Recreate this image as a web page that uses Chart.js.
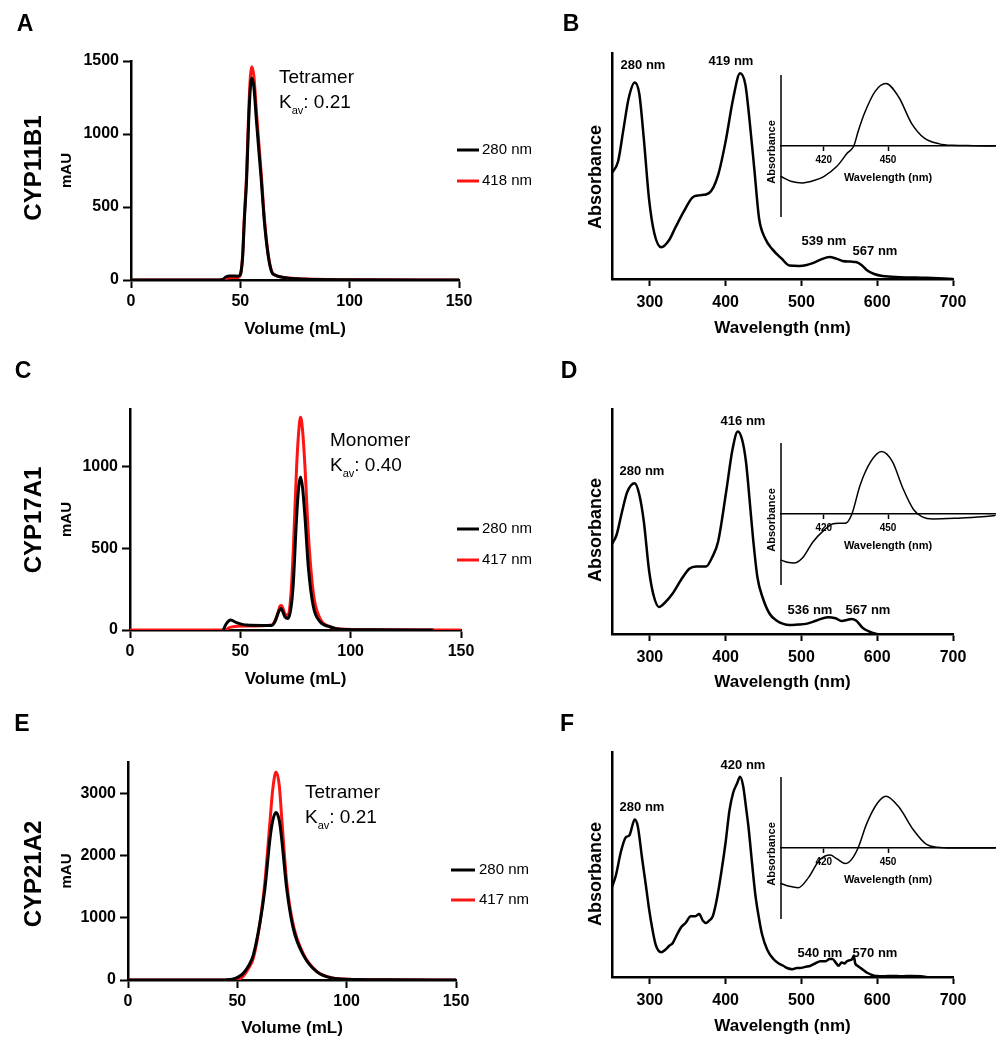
<!DOCTYPE html>
<html>
<head>
<meta charset="utf-8">
<script src="https://cdn.jsdelivr.net/npm/chart.js@4.4.1/dist/chart.umd.min.js"></script>
<style>
  body { margin: 0; background: #fff; }
  #fig { position: relative; width: 1004px; height: 1050px; overflow: hidden; }
  #fig div { position: absolute; }
</style>
</head>
<body>
<div id="fig"></div>
<script>
const FONT = '"Liberation Sans", Arial, Helvetica, sans-serif';
Chart.defaults.font.family = FONT;
Chart.defaults.color = '#000';
Chart.defaults.animation = false;

// tick labels
const volTicks = [0, 50, 100, 150];
const nmTicks = [300, 400, 500, 600, 700];
const insetTicks = [420, 450];

// SEC, CYP11B1
const volA = [0, 40, 42, 43.5, 45, 47, 48.5, 49.5, 50.2, 51.1, 51.8, 52.9, 53.8, 54.6, 55.2, 56.2, 57.4, 58.5, 59.5, 61, 62.7, 64.3, 66, 68, 72, 80, 100, 150];
const a280 = [0, 0, 5, 22, 28, 28, 26, 30, 47, 171, 400, 700, 1085, 1320, 1383, 1320, 1085, 880, 700, 400, 171, 57, 32, 22, 12, 5, 2, 0];
const a418 = [0, 0, 3, 12, 16, 17, 16, 22, 45, 180, 420, 740, 1145, 1395, 1461, 1395, 1145, 930, 740, 420, 180, 60, 34, 23, 13, 6, 2, 0];

// SEC, CYP17A1
const volC280 = [42.3, 43.5, 45.6, 48.3, 52.8, 60, 64.2, 65.7, 67, 68.4, 70.2, 71.7, 73, 74, 75.5, 76.5, 77.3, 78.2, 79.3, 80.8, 83.1, 86.1, 90.6, 95, 110, 137];
const c280 = [0, 35, 61, 45, 30, 28, 28, 51, 100, 132, 81, 71, 140, 285, 690, 880, 935, 870, 690, 386, 142, 51, 20, 5, 1, 0];
const volC417 = [0, 43, 45.3, 52.8, 64.2, 66.5, 68, 68.6, 70.2, 71.6, 73, 74, 75.5, 76.5, 77.3, 78.2, 79.3, 80.8, 83.1, 86.1, 90.6, 95, 110, 150];
const c417 = [0, 0, 16, 24, 30, 80, 146, 150, 100, 88, 230, 488, 995, 1220, 1300, 1220, 995, 590, 224, 71, 20, 6, 1, 0];

// SEC, CYP21A2
const volE = [0, 40, 44.5, 48.2, 50.5, 52.7, 55, 57.3, 60.4, 62.6, 64.9, 66.2, 67.7, 69.2, 70.3, 72.6, 75.6, 80.2, 86.3, 93.9, 100, 120, 150];
const e280 = [0, 0, 2, 15, 50, 106, 220, 400, 930, 1460, 2260, 2560, 2690, 2560, 2260, 1460, 825, 400, 133, 27, 12, 3, 0];
const e417 = [0, 0, 0, 3, 10, 60, 180, 346, 930, 1570, 2530, 3060, 3340, 3120, 2600, 1560, 880, 420, 140, 30, 14, 4, 0];

// UV-vis spectra
const wlB = [250, 258, 265, 272, 280, 286, 292, 299, 306, 315, 325, 334, 345, 356, 365, 378, 390, 400, 410, 419, 426, 431, 438, 444, 452, 462, 474, 484, 497, 507, 515, 527, 537, 546, 554, 565, 572, 580, 586, 596, 607, 630, 665, 700];
const absB = [0.47, 0.52, 0.66, 0.80, 0.87, 0.82, 0.62, 0.35, 0.20, 0.14, 0.17, 0.23, 0.30, 0.36, 0.37, 0.38, 0.46, 0.61, 0.80, 0.91, 0.86, 0.72, 0.48, 0.27, 0.18, 0.13, 0.09, 0.06, 0.058, 0.062, 0.07, 0.088, 0.097, 0.09, 0.08, 0.077, 0.075, 0.06, 0.04, 0.022, 0.013, 0.008, 0.005, 0];
const wlD = [250, 256, 263, 270, 280, 286, 292, 299, 305, 312, 320, 330, 341, 352, 361, 374, 382, 390, 401, 409, 416, 422, 427, 432, 436, 442, 449, 458, 467, 476, 484, 495, 506, 520, 535, 545, 553, 560, 566, 572, 581, 590, 597, 600];
const absD = [0.40, 0.44, 0.54, 0.63, 0.67, 0.62, 0.50, 0.28, 0.17, 0.12, 0.14, 0.18, 0.24, 0.29, 0.30, 0.30, 0.34, 0.41, 0.64, 0.82, 0.90, 0.86, 0.76, 0.58, 0.43, 0.25, 0.16, 0.09, 0.06, 0.045, 0.04, 0.042, 0.045, 0.06, 0.075, 0.07, 0.058, 0.062, 0.067, 0.06, 0.027, 0.01, 0.002, 0];
const wlF = [250, 255, 262, 268, 273, 280, 284, 290, 295, 299, 304, 308, 315, 320, 326, 330, 336, 341, 347, 354, 360, 365, 370, 374, 378, 383, 388, 394, 400, 405, 410, 415, 419, 423, 427, 430, 435, 439, 444, 448, 455, 463, 470, 476, 481, 488, 494, 498, 505, 512, 518, 525, 532, 537, 541, 545, 549, 553, 557, 560, 564, 567, 569, 571, 574, 578, 582, 586, 591, 596, 600, 608, 620, 632, 645, 658, 665];
const absF = [0.40, 0.45, 0.56, 0.62, 0.63, 0.70, 0.67, 0.52, 0.40, 0.30, 0.20, 0.14, 0.11, 0.12, 0.14, 0.15, 0.19, 0.22, 0.24, 0.27, 0.27, 0.28, 0.25, 0.24, 0.25, 0.27, 0.34, 0.46, 0.60, 0.74, 0.82, 0.86, 0.89, 0.85, 0.75, 0.67, 0.50, 0.37, 0.26, 0.19, 0.12, 0.08, 0.06, 0.05, 0.04, 0.035, 0.04, 0.04, 0.045, 0.05, 0.06, 0.07, 0.07, 0.08, 0.08, 0.065, 0.05, 0.065, 0.06, 0.07, 0.075, 0.08, 0.095, 0.06, 0.05, 0.04, 0.03, 0.02, 0.012, 0.006, 0.004, 0.003, 0.005, 0.003, 0.005, 0.003, 0];

// CO difference spectra (insets)
const wlBi = [400, 405, 410, 415, 420, 426, 431, 434, 436, 439, 444, 449, 455, 461, 467, 474, 480, 490, 500];
const difB = [-0.43, -0.50, -0.52, -0.49, -0.43, -0.29, -0.10, 0, 0.2, 0.46, 0.77, 0.88, 0.69, 0.32, 0.11, 0.03, 0.01, 0.005, 0];
const wlDi = [400, 403, 406, 410, 415, 420, 424, 427, 430, 433, 437, 442, 447, 452, 457, 462, 466, 471, 482, 494, 500];
const difD = [-0.65, -0.68, -0.69, -0.62, -0.39, -0.23, -0.14, -0.13, -0.13, -0.01, 0.41, 0.74, 0.88, 0.74, 0.36, 0.06, -0.04, -0.07, -0.06, -0.04, -0.02];
const wlFi = [400, 404, 408, 413, 418, 423, 426, 430, 433, 436, 440, 445, 449, 455, 462, 468, 473, 480, 500];
const difF = [-0.50, -0.54, -0.56, -0.41, -0.17, -0.10, -0.15, -0.22, -0.16, 0, 0.34, 0.63, 0.73, 0.58, 0.25, 0.05, 0.01, 0, 0];

const BLACK = '#000000';
const RED = '#ff1414';
const fig = document.getElementById('fig');
const F = s => s + ' ' + FONT;

function pts(xs, ys) {
  return xs.map((x, i) => ({x: x, y: ys[i]}));
}

// free text, legend and inset y line
const notesPlugin = {
  id: 'notes',
  afterDraw(chart, args, opts) {
    const ctx = chart.ctx;
    const ox = opts.ox, oy = opts.oy;
    ctx.save();
    ctx.fillStyle = '#000';
    ctx.textBaseline = 'middle';
    if (opts.yLine) {
      const y = chart.scales.y, a = chart.chartArea;
      ctx.strokeStyle = '#000';
      ctx.lineWidth = 1.5;
      ctx.beginPath();
      ctx.moveTo(a.left, y.getPixelForValue(y.max));
      ctx.lineTo(a.left, y.getPixelForValue(-y.max));
      ctx.stroke();
    }
    (opts.items || []).forEach(n => {
      ctx.save();
      if (n.parts) {
        let x = n.x - ox;
        ctx.textAlign = 'left';
        n.parts.forEach(pt => {
          ctx.font = F(pt[1]);
          ctx.fillText(pt[0], x, n.y - oy + pt[2]);
          x += ctx.measureText(pt[0]).width;
        });
      } else {
        ctx.font = F(n.f);
        ctx.textAlign = n.a || 'left';
        ctx.translate(n.x - ox, n.y - oy);
        if (n.rot) ctx.rotate(-Math.PI / 2);
        ctx.fillText(n.t, 0, 0);
      }
      ctx.restore();
    });
    if (opts.legend) {
      const L = opts.legend;
      chart.data.datasets.forEach((ds, i) => {
        const y = L.ys[i] - oy;
        ctx.strokeStyle = ds.borderColor;
        ctx.lineWidth = 3;
        ctx.beginPath();
        ctx.moveTo(L.x1 - ox, y);
        ctx.lineTo(L.x2 - ox, y);
        ctx.stroke();
        ctx.font = F('15px');
        ctx.textAlign = 'left';
        ctx.fillText(ds.label, L.tx - ox, y);
      });
    }
    ctx.restore();
  }
};

function panel(p) {
  const [bx, by, bw, bh] = p.box;
  const [al, ar, at, ab] = p.area;
  const holder = document.createElement('div');
  Object.assign(holder.style, {left: bx + 'px', top: by + 'px', width: bw + 'px', height: bh + 'px'});
  const cv = document.createElement('canvas');
  cv.width = bw;
  cv.height = bh;
  holder.appendChild(cv);
  fig.appendChild(holder);

  const xs = p.x, ys = p.y;
  const titleBottom = p.xTitleY + xs.titleSize * 0.6;
  const yShown = ys.display !== false;
  const plain = v => String(v);

  const yScale = {
    type: 'linear', min: ys.min, max: ys.max, display: yShown,
    border: {display: !!ys.border, color: '#000', width: xs.bw},
    grid: {display: !!ys.ticks, drawOnChartArea: false, tickLength: 8, tickWidth: 2, tickColor: '#000'},
    ticks: {display: !!ys.ticks, font: {size: 16, weight: 'bold'}, padding: 4, callback: plain},
    title: {display: !!ys.title, text: ys.title || '', font: {size: 15, weight: 'bold'}, padding: {top: 58, bottom: 0}}
  };
  if (yShown) yScale.afterFit = ax => { ax.width = al - bx; };
  if (ys.ticks) yScale.afterBuildTicks = ax => { ax.ticks = ys.ticks.map(v => ({value: v})); };

  const xScale = {
    type: 'linear', min: xs.min, max: xs.max,
    afterBuildTicks: ax => { ax.ticks = xs.ticks.map(v => ({value: v})); },
    afterFit: ax => { ax.height = titleBottom - ab; },
    border: {display: true, color: '#000', width: xs.bw},
    grid: {drawOnChartArea: false, tickLength: xs.tl, tickWidth: xs.tw, tickColor: '#000', color: '#000'},
    ticks: {font: {size: xs.size, weight: 'bold'}, padding: xs.tp, maxRotation: 0, autoSkip: false, callback: plain},
    title: {display: true, text: xs.title, font: {size: xs.titleSize, weight: 'bold'}, padding: 0}
  };

  new Chart(cv, {
    type: 'line',
    data: {
      datasets: p.series.map(s => ({
        label: s.label,
        data: pts(s.x, s.y),
        borderColor: s.color,
        borderWidth: s.width,
        pointRadius: 0,
        fill: false,
        cubicInterpolationMode: 'monotone',
        borderJoinStyle: 'round',
        borderCapStyle: 'round',
        clip: p.noClip ? false : undefined
      }))
    },
    options: {
      responsive: false,
      events: [],
      layout: {padding: {left: yShown ? 0 : al - bx, top: at - by, right: bx + bw - ar, bottom: by + bh - titleBottom}},
      scales: {x: xScale, y: yScale},
      plugins: {
        legend: {display: false},
        tooltip: {enabled: false},
        notes: {ox: bx, oy: by, items: p.notes, legend: p.legend, yLine: p.yLine}
      }
    },
    plugins: [notesPlugin]
  });
}

function secPanel(o) {
  panel({
    box: o.box, area: o.area, xTitleY: o.xTitleY,
    x: {min: 0, max: 150, ticks: volTicks, title: 'Volume (mL)', size: 16, titleSize: 17, tl: 8, tw: 2, tp: 4, bw: 2.5},
    y: {min: 0, max: o.yMax, ticks: o.yTicks, title: 'mAU', border: true},
    series: o.series, notes: o.notes, legend: o.legend
  });
}

function specPanel(o) {
  panel({
    box: o.box, area: o.area, xTitleY: o.xTitleY,
    x: {min: 250, max: 700, ticks: nmTicks, title: 'Wavelength (nm)', size: 16, titleSize: 17, tl: 7, tw: 2, tp: 7, bw: 2.5},
    y: {min: 0, max: 1, border: true},
    series: [{label: 'Absorbance', x: o.wl, y: o.abs, color: BLACK, width: 2.5}],
    notes: o.notes
  });
}

function insetPanel(o) {
  const zero = o.area[3];
  panel({
    box: o.box, area: o.area, xTitleY: zero + 32, noClip: true, yLine: true,
    x: {min: 400, max: 500, ticks: insetTicks, title: 'Wavelength (nm)', size: 10, titleSize: 11, tl: 5, tw: 1.5, tp: 3, bw: 1.5},
    y: {min: 0, max: 1, display: false},
    series: [{label: 'CO difference', x: o.wl, y: o.dif, color: BLACK, width: 1.5}],
    notes: [{t: 'Absorbance', x: 772, y: zero + 6, f: 'bold 11px', a: 'center', rot: 1}]
  });
}

function kav(x, y, val) {
  return {x: x, y: y, parts: [['K', '19px', 0], ['av', '11px', 8], [': ' + val, '19px', 0]]};
}

secPanel({
  box: [0, 0, 560, 345], area: [131, 459, 61, 280], xTitleY: 329,
  yMax: 1500, yTicks: [0, 500, 1000, 1500],
  series: [
    {label: '280 nm', x: volA, y: a280, color: BLACK, width: 3},
    {label: '418 nm', x: volA, y: a418, color: RED, width: 3}
  ],
  legend: {x1: 457, x2: 479, tx: 482, ys: [150, 181]},
  notes: [
    {t: 'A', x: 25, y: 25, f: 'bold 23px', a: 'center'},
    {t: 'CYP11B1', x: 34, y: 168, f: 'bold 24px', a: 'center', rot: 1},
    {t: 'Tetramer', x: 279, y: 78, f: '19px'},
    kav(279, 103, '0.21')
  ]
});

secPanel({
  box: [0, 330, 560, 365], area: [130, 461, 409, 630], xTitleY: 679,
  yMax: 1350, yTicks: [0, 500, 1000],
  series: [
    {label: '280 nm', x: volC280, y: c280, color: BLACK, width: 3},
    {label: '417 nm', x: volC417, y: c417, color: RED, width: 3}
  ],
  legend: {x1: 457, x2: 479, tx: 482, ys: [529, 560]},
  notes: [
    {t: 'C', x: 23, y: 372, f: 'bold 23px', a: 'center'},
    {t: 'CYP17A1', x: 34, y: 520, f: 'bold 24px', a: 'center', rot: 1},
    {t: 'Monomer', x: 330, y: 441, f: '19px'},
    kav(330, 466, '0.40')
  ]
});

secPanel({
  box: [0, 660, 560, 390], area: [128, 456, 762, 980], xTitleY: 1028,
  yMax: 3500, yTicks: [0, 1000, 2000, 3000],
  series: [
    {label: '280 nm', x: volE, y: e280, color: BLACK, width: 3},
    {label: '417 nm', x: volE, y: e417, color: RED, width: 3}
  ],
  legend: {x1: 451, x2: 475, tx: 479, ys: [870, 900]},
  notes: [
    {t: 'E', x: 22, y: 725, f: 'bold 23px', a: 'center'},
    {t: 'CYP21A2', x: 34, y: 874, f: 'bold 24px', a: 'center', rot: 1},
    {t: 'Tetramer', x: 305, y: 793, f: '19px'},
    kav(305, 818, '0.21')
  ]
});

specPanel({
  box: [500, 0, 504, 345], area: [612, 953, 53, 279], xTitleY: 328,
  wl: wlB, abs: absB,
  notes: [
    {t: 'B', x: 571, y: 25, f: 'bold 23px', a: 'center'},
    {t: 'Absorbance', x: 596, y: 177, f: 'bold 18px', a: 'center', rot: 1},
    {t: '280 nm', x: 643, y: 65, f: 'bold 13px', a: 'center'},
    {t: '419 nm', x: 731, y: 61, f: 'bold 13px', a: 'center'},
    {t: '539 nm', x: 824, y: 241, f: 'bold 13px', a: 'center'},
    {t: '567 nm', x: 875, y: 251, f: 'bold 13px', a: 'center'}
  ]
});

specPanel({
  box: [500, 330, 504, 365], area: [612, 953, 409, 634], xTitleY: 682,
  wl: wlD, abs: absD,
  notes: [
    {t: 'D', x: 569, y: 372, f: 'bold 23px', a: 'center'},
    {t: 'Absorbance', x: 596, y: 530, f: 'bold 18px', a: 'center', rot: 1},
    {t: '416 nm', x: 743, y: 421, f: 'bold 13px', a: 'center'},
    {t: '280 nm', x: 642, y: 471, f: 'bold 13px', a: 'center'},
    {t: '536 nm', x: 810, y: 610, f: 'bold 13px', a: 'center'},
    {t: '567 nm', x: 868, y: 610, f: 'bold 13px', a: 'center'}
  ]
});

specPanel({
  box: [500, 660, 504, 390], area: [612, 953, 752, 977], xTitleY: 1026,
  wl: wlF, abs: absF,
  notes: [
    {t: 'F', x: 567, y: 725, f: 'bold 23px', a: 'center'},
    {t: 'Absorbance', x: 596, y: 874, f: 'bold 18px', a: 'center', rot: 1},
    {t: '420 nm', x: 743, y: 765, f: 'bold 13px', a: 'center'},
    {t: '280 nm', x: 642, y: 807, f: 'bold 13px', a: 'center'},
    {t: '540 nm', x: 820, y: 953, f: 'bold 13px', a: 'center'},
    {t: '570 nm', x: 875, y: 953, f: 'bold 13px', a: 'center'}
  ]
});

insetPanel({box: [760, 60, 244, 167], area: [781, 995, 75, 146], wl: wlBi, dif: difB});
insetPanel({box: [760, 428, 244, 167], area: [781, 995, 443, 514], wl: wlDi, dif: difD});
insetPanel({box: [760, 762, 244, 167], area: [781, 995, 777, 848], wl: wlFi, dif: difF});
</script>
</body>
</html>
